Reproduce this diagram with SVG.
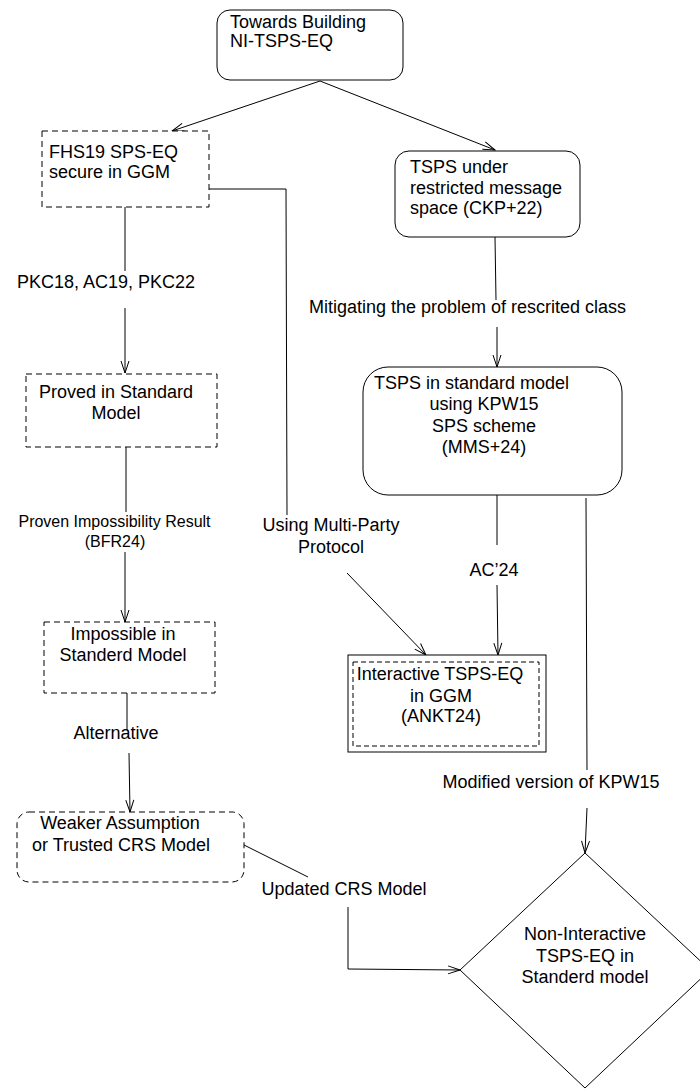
<svg xmlns="http://www.w3.org/2000/svg" width="700" height="1089" viewBox="0 0 700 1089">
<style>
  .box { fill: #ffffff; stroke: #000000; stroke-width: 1; }
  .dash { fill: #ffffff; stroke: #000000; stroke-width: 1; stroke-dasharray: 6 4; }
  .t { font-family: "Liberation Sans", Arial, sans-serif; font-size: 18px; fill: #000000; }
  .s { font-family: "Liberation Sans", Arial, sans-serif; font-size: 16px; fill: #000000; }
  .c { text-anchor: middle; }
  .edge { fill: none; stroke: #000000; stroke-width: 1; }
  .arr { marker-end: url(#open); }
</style>
<defs>
  <marker id="open" viewBox="0 0 14 10" refX="13" refY="5" markerWidth="14" markerHeight="10" markerUnits="userSpaceOnUse" orient="auto">
    <path d="M1,1 L13,5 L1,9" fill="none" stroke="#000000" stroke-width="1"/>
  </marker>
</defs>
<rect width="700" height="1089" fill="#ffffff"/>

<g id="connectors">
  <line class="edge arr" x1="320" y1="81" x2="172" y2="131"/>
  <line class="edge arr" x1="320" y1="81" x2="495" y2="150"/>
  <line class="edge" x1="125" y1="207" x2="125" y2="271"/>
  <line class="edge arr" x1="125" y1="308" x2="125" y2="373"/>
  <line class="edge" x1="126" y1="447" x2="126" y2="512"/>
  <line class="edge arr" x1="125" y1="552" x2="125" y2="622"/>
  <line class="edge" x1="127" y1="693" x2="127" y2="730"/>
  <line class="edge arr" x1="129" y1="753" x2="130" y2="812"/>
  <line class="edge" x1="244" y1="845" x2="308" y2="877"/>
  <polyline class="edge arr" points="348,907 348,969 460,970"/>
  <polyline class="edge" points="209,189 286,189 287,515"/>
  <line class="edge arr" x1="347" y1="573" x2="426" y2="655"/>
  <line class="edge" x1="495" y1="237" x2="496" y2="300"/>
  <line class="edge arr" x1="497" y1="327" x2="497" y2="367"/>
  <line class="edge" x1="497" y1="495" x2="497" y2="545"/>
  <line class="edge arr" x1="497" y1="585" x2="498" y2="655"/>
  <line class="edge" x1="586" y1="498" x2="587" y2="770"/>
  <line class="edge arr" x1="587" y1="808" x2="585" y2="853"/>
  <text class="t c" x="106" y="288">PKC18, AC19, PKC22</text>
  <text class="s c" x="114.5" y="527">Proven Impossibility Result</text>
  <text class="s c" x="115" y="547">(BFR24)</text>
  <text class="t c" x="116" y="739">Alternative</text>
  <text class="t c" x="344" y="895">Updated CRS Model</text>
  <text class="t c" x="331" y="531">Using Multi-Party</text>
  <text class="t c" x="331" y="553">Protocol</text>
  <text class="t c" x="467.5" y="313">Mitigating the problem of rescrited class</text>
  <text class="t c" x="494" y="576">AC’24</text>
  <text class="t c" x="551" y="788">Modified version of KPW15</text>
</g>

<g id="node-top">
  <rect class="box" x="217" y="10" width="186" height="70" rx="13" ry="13"/>
  <text class="t" x="230" y="28">Towards Building</text>
  <text class="t" x="230" y="47">NI-TSPS-EQ</text>
</g>

<g id="node-fhs19">
  <rect class="dash" x="42" y="131" width="167" height="76"/>
  <text class="t" x="49" y="158">FHS19 SPS-EQ</text>
  <text class="t" x="49" y="178">secure in GGM</text>
</g>

<g id="node-tsps-restricted">
  <rect class="box" x="395" y="151" width="185" height="86" rx="14" ry="14"/>
  <text class="t" x="410" y="173">TSPS under</text>
  <text class="t" x="410" y="194">restricted message</text>
  <text class="t" x="410" y="214">space (CKP+22)</text>
</g>

<g id="node-proved">
  <rect class="dash" x="26" y="374" width="191" height="73"/>
  <text class="t c" x="116" y="398">Proved in Standard</text>
  <text class="t c" x="116" y="419">Model</text>
</g>

<g id="node-tsps-standard">
  <rect class="box" x="363" y="367" width="259" height="128" rx="25" ry="25"/>
  <text class="t c" x="471.5" y="389">TSPS in standard model</text>
  <text class="t c" x="484" y="410">using KPW15</text>
  <text class="t c" x="484" y="432">SPS scheme</text>
  <text class="t c" x="484" y="453">(MMS+24)</text>
</g>

<g id="node-impossible">
  <rect class="dash" x="44" y="622" width="171" height="71"/>
  <text class="t c" x="123" y="640">Impossible in</text>
  <text class="t c" x="123" y="661">Standerd Model</text>
</g>

<g id="node-interactive">
  <rect class="box" x="348" y="655" width="198" height="97"/>
  <rect class="dash" x="353" y="662" width="186" height="84" style="stroke-dasharray:5 3"/>
  <text class="t c" x="440" y="680">Interactive TSPS-EQ</text>
  <text class="t c" x="441" y="702">in GGM</text>
  <text class="t c" x="441" y="722">(ANKT24)</text>
</g>

<g id="node-weaker">
  <rect class="dash" x="17" y="812" width="227" height="70" rx="12" ry="12"/>
  <text class="t c" x="120" y="829">Weaker Assumption</text>
  <text class="t c" x="121" y="851">or Trusted CRS Model</text>
</g>

<g id="node-noninteractive">
  <polygon class="box" points="585,853 710,970 585,1088 460,970"/>
  <text class="t c" x="585" y="940">Non-Interactive</text>
  <text class="t c" x="585" y="962">TSPS-EQ in</text>
  <text class="t c" x="585" y="983">Standerd model</text>
</g>
</svg>
